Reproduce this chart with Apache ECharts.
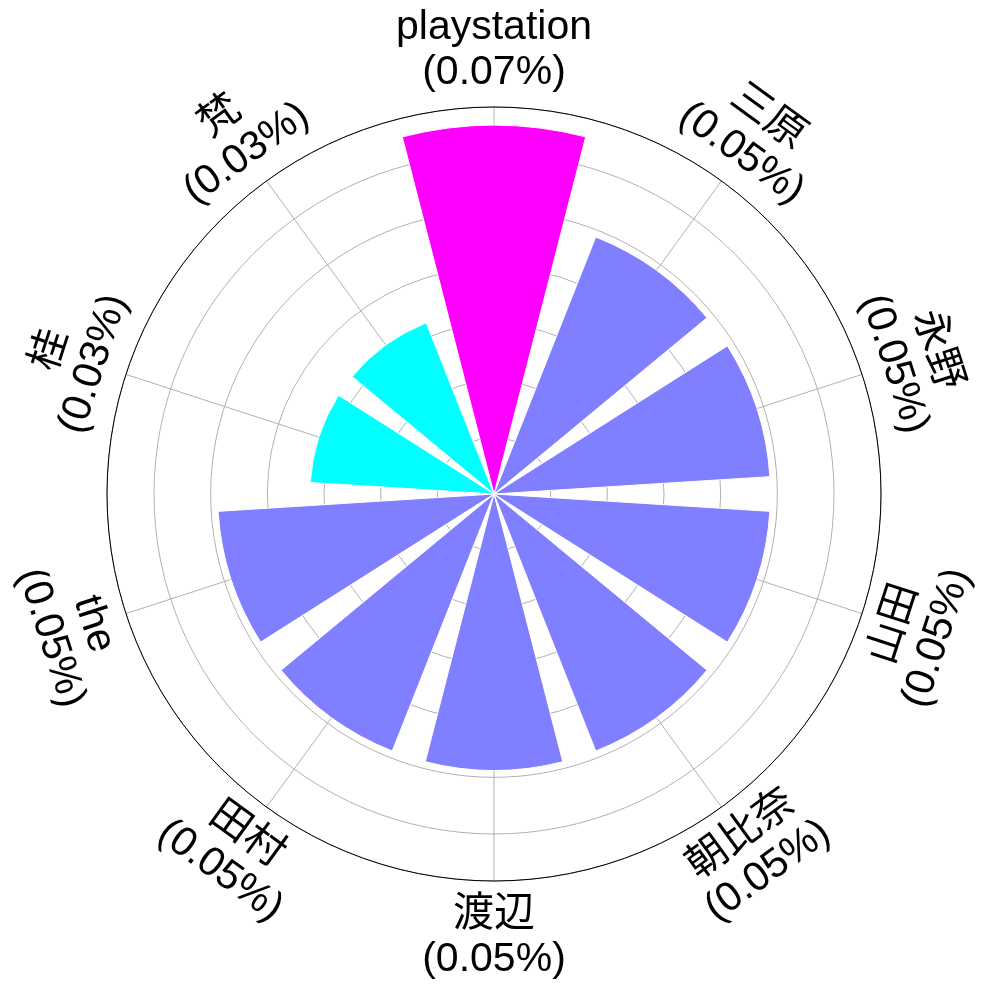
<!DOCTYPE html>
<html>
<head>
<meta charset="utf-8">
<script src="https://cdn.jsdelivr.net/npm/echarts@6/dist/echarts.min.js"></script>
<style>
  html, body { margin: 0; padding: 0; background: #fff; }
  #app { width: 987px; height: 990px; }
</style>
</head>
<body>
<div id="app"></div>
<script>
// categories clockwise from the top
const categories = ["playstation", "三原", "永野", "山田", "朝比奈", "渡辺", "田村", "the", "桂", "梵"];
// share in percent
const shares = [0.0667, 0.05, 0.05, 0.05, 0.05, 0.05, 0.05, 0.05, 0.0333, 0.0333];
const radiusMax = 0.07;
const gridStep = 0.01025;

const vmin = Math.min(...shares);
const vmax = Math.max(...shares);
// matplotlib "cool" colormap
function cool(t) {
  const r = Math.round(255 * t);
  const g = Math.round(255 * (1 - t));
  return "rgb(" + r + "," + g + ",255)";
}

const fontFamily = "'Liberation Sans', Arial, 'Noto Sans CJK JP', sans-serif";
const myChart = echarts.init(document.getElementById("app"));

let option = {
  animation: false,
  polar: [
    { center: [494, 494], radius: 387 },
    { center: [494, 494], radius: 387 },
  ],
  angleAxis: [
    {
      polarIndex: 0,
      type: "category",
      data: categories,
      startAngle: 108,
      clockwise: true,
      axisLine: { show: false },
      axisTick: { show: false },
      axisLabel: { show: false },
      splitLine: { show: false },
    },
    {
      polarIndex: 1,
      type: "value",
      min: 0,
      max: 360,
      interval: 36,
      startAngle: 90,
      clockwise: true,
      axisLine: { show: true, lineStyle: { color: "#000", width: 1 } },
      axisTick: { show: false },
      axisLabel: { show: false },
      splitLine: { show: true, lineStyle: { color: "#b0b0b0", width: 1 } },
    },
  ],
  radiusAxis: [
    {
      polarIndex: 0,
      min: 0,
      max: radiusMax,
      axisLine: { show: false },
      axisTick: { show: false },
      axisLabel: { show: false },
      splitLine: { show: false },
    },
    {
      polarIndex: 1,
      min: 0,
      max: radiusMax,
      interval: gridStep,
      axisLine: { show: false },
      axisTick: { show: false },
      axisLabel: { show: false },
      splitLine: { show: true, lineStyle: { color: "#b0b0b0", width: 1 } },
    },
  ],
  series: [
    {
      type: "bar",
      coordinateSystem: "polar",
      polarIndex: 0,
      barWidth: "80%",
      data: shares,
      itemStyle: {
        color: (p) => cool((p.value - vmin) / (vmax - vmin)),
        borderColor: "#fff",
        borderWidth: 1,
      },
      z: 3,
    },
    {
      type: "custom",
      coordinateSystem: "polar",
      polarIndex: 0,
      data: shares.map((v, i) => [v, i]),
      z: 4,
      renderItem: function (params, api) {
        const i = params.dataIndex;
        const cs = params.coordSys;
        const p = api.coord([radiusMax, i]);
        const dx = p[0] - cs.cx;
        const dy = p[1] - cs.cy;
        const r = Math.sqrt(dx * dx + dy * dy);
        let theta = (Math.atan2(dx, -dy) * 180) / Math.PI;
        if (theta < 0) theta += 360;
        let rot = theta > 90 && theta < 270 ? theta - 180 : theta;
        const labelR = r * 1.1457;
        return {
          type: "text",
          x: cs.cx + (dx / r) * labelR,
          y: cs.cy + (dy / r) * labelR,
          rotation: (-rot * Math.PI) / 180,
          style: {
            x: 0,
            y: 0,
            text: categories[i] + "\n(" + shares[i].toFixed(2) + "%)",
            align: "center",
            verticalAlign: "middle",
            fontSize: 41,
            lineHeight: 45,
            fontFamily: fontFamily,
            fill: "#000",
          },
        };
      },
    },
  ],
};
myChart.setOption(option);
</script>
</body>
</html>
